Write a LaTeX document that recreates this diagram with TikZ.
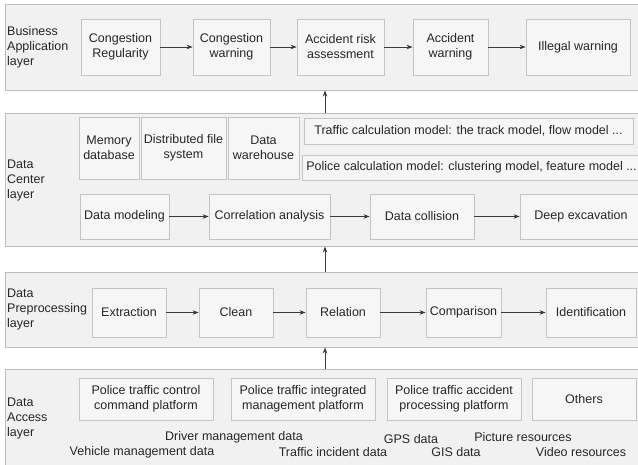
\documentclass[tikz,border=0pt]{standalone}
\usepackage{fontspec}
\setmainfont{Liberation Sans}
\usetikzlibrary{arrows.meta,shadows}
\definecolor{layerfill}{HTML}{F1F1F1}
\definecolor{layerline}{HTML}{BDBDBD}
\definecolor{boxfill}{HTML}{F6F6F6}
\definecolor{boxline}{HTML}{C4C4C4}
\definecolor{inkline}{HTML}{3A3A3A}
\tikzset{
  layerbox/.style={draw=layerline, fill=layerfill, line width=0.9pt,
    drop shadow={shadow xshift=0.8pt, shadow yshift=-0.8pt, opacity=0.25}},
  stagebox/.style={draw=boxline, fill=boxfill, line width=0.8pt,
    drop shadow={shadow xshift=0.8pt, shadow yshift=-0.8pt, opacity=0.3}},
  txt/.style={font=\fontsize{12.5}{15}\selectfont, text=black!85, inner sep=0pt},
  boxtext/.style={txt, align=center},
  layertext/.style={txt, align=left, anchor=west},
  flow/.style={draw=inkline, line width=0.8pt, -{Stealth[length=6pt,width=4.5pt]}}
}
% place a box by its two corners (x1,y1,x2,y2 in picture units, y downward)
\newcommand{\stage}[6]{%
  \node[stagebox, boxtext, minimum width={(#4-#2)*1pt}, minimum height={(#5-#3)*1pt}]
    (#1) at ({(#2+#4)/2},{(#3+#5)/2}) {#6};}
\newcommand{\layer}[5]{%
  \node[layerbox, minimum width={(#4-#2)*1pt}, minimum height={(#5-#3)*1pt}]
    (#1) at ({(#2+#4)/2},{(#3+#5)/2}) {};}
\begin{document}
\begin{tikzpicture}[x=1pt, y=-1pt]
\useasboundingbox (0,0) rectangle (638,464);
\begin{scope}
\clip (0,0) rectangle (638,464);
% layers
\layer{L1}{5}{4}{652}{90}
\layer{L2}{5}{113}{652}{246}
\layer{L3}{5}{272}{652}{347}
\layer{L4}{5}{369}{652}{476}

\node[layertext] (t1) at (7,47) {Business\\Application\\layer};
\node[layertext] (t2) at (7,180) {Data\\Center\\layer};
\node[layertext] (t3) at (7,309) {Data\\Preprocessing\\layer};
\node[layertext] (t4) at (7,418) {Data\\Access\\layer};

% business application layer
\stage{cr}{81}{19}{160}{75}{Congestion\\Regularity}
\stage{cw}{193}{19}{270}{75}{Congestion\\warning}
\stage{ara}{297}{19}{384}{75}{Accident risk\\assessment}
\stage{aw}{413}{19}{488}{75}{Accident\\warning}
\stage{iw}{526}{19}{630}{75}{Illegal warning}

% data center layer
\stage{md}{79}{117}{139}{179}{Memory\\database}
\stage{dfs}{141}{117}{226}{179}{Distributed file\\system}
\stage{dw}{228}{117}{299}{179}{Data\\warehouse}
\stage{tcm}{304}{118}{633}{144}{Traffic calculation model: the track model, flow model ...}
\stage{pcm}{302}{155}{641}{180}{Police calculation model: clustering model, feature model ...}
\stage{dmod}{80}{194}{169}{239}{Data modeling}
\stage{ca}{209}{194}{330}{239}{Correlation analysis}
\stage{dc}{370}{194}{474}{239}{Data collision}
\stage{de}{520}{194}{642}{239}{Deep excavation}

% data preprocessing layer
\stage{ext}{92}{288}{166}{337}{Extraction}
\stage{cln}{199}{288}{273}{337}{Clean}
\stage{rel}{306}{288}{380}{337}{Relation}
\stage{cmp}{426}{288}{501}{337}{Comparison}
\stage{idf}{546}{288}{636}{337}{Identification}

% data access layer
\stage{p1}{79}{378}{213}{420}{Police traffic control\\command platform}
\stage{p2}{231}{378}{375}{420}{Police traffic integrated\\management platform}
\stage{p3}{387}{378}{521}{420}{Police traffic accident\\processing platform}
\stage{oth}{532}{378}{636}{420}{Others}

\node[txt] (s1) at (234,437) {Driver management data};
\node[txt] (s2) at (142,452) {Vehicle management data};
\node[txt] (s3) at (333,452) {Traffic incident data};
\node[txt] (s4) at (411,439) {GPS data};
\node[txt] (s5) at (456,452) {GIS data};
\node[txt] (s6) at (523,437) {Picture resources};
\node[txt] (s7) at (581,452) {Video resources};

% horizontal flows
\draw[flow] (cr) -- (cw);
\draw[flow] (cw) -- (ara);
\draw[flow] (ara) -- (aw);
\draw[flow] (aw) -- (iw);
\draw[flow] (dmod) -- (ca);
\draw[flow] (ca) -- (dc);
\draw[flow] (dc) -- (de);
\draw[flow] (ext) -- (cln);
\draw[flow] (cln) -- (rel);
\draw[flow] (rel) -- (cmp);
\draw[flow] (cmp) -- (idf);

% flows between layers
\coordinate (ax) at (325,0);
\draw[flow] (L4.north -| ax) -- (L3.south -| ax);
\draw[flow] (L3.north -| ax) -- (L2.south -| ax);
\draw[flow] (L2.north -| ax) -- (L1.south -| ax);
\end{scope}
\end{tikzpicture}
\end{document}
